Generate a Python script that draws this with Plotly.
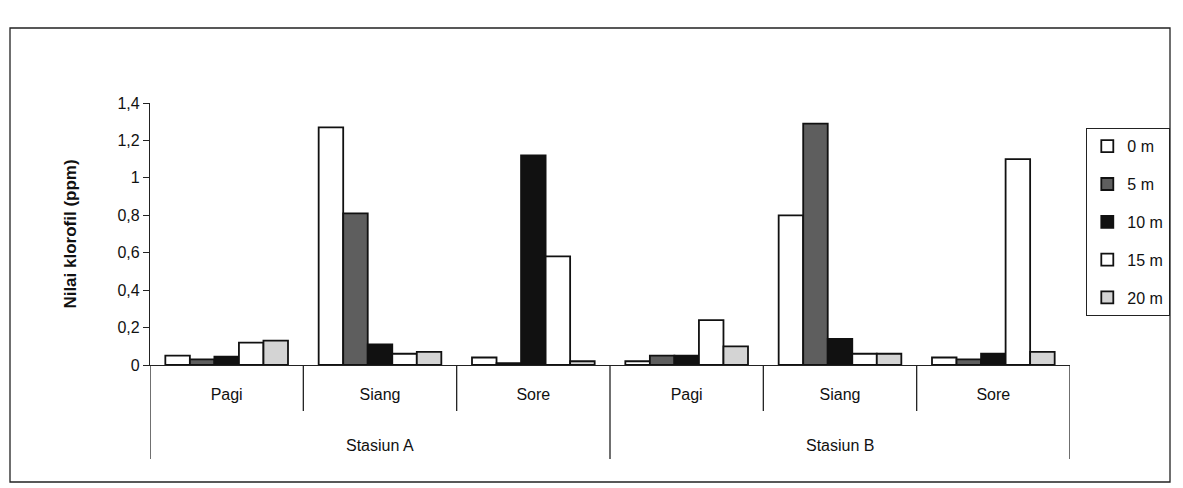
import plotly.graph_objects as go

# Categories: station (outer level) and time of day (inner level)
stasiun = ["Stasiun A", "Stasiun A", "Stasiun A", "Stasiun B", "Stasiun B", "Stasiun B"]
waktu = ["Pagi", "Siang", "Sore", "Pagi", "Siang", "Sore"]

# Chlorophyll values (ppm) per sampling depth
depth_0m = [0.05, 1.27, 0.04, 0.02, 0.80, 0.04]
depth_5m = [0.03, 0.81, 0.01, 0.05, 1.29, 0.03]
depth_10m = [0.045, 0.11, 1.12, 0.05, 0.14, 0.06]
depth_15m = [0.12, 0.06, 0.58, 0.24, 0.06, 1.10]
depth_20m = [0.13, 0.07, 0.02, 0.10, 0.06, 0.07]

series_names = ["0 m", "5 m", "10 m", "15 m", "20 m"]
series_values = [depth_0m, depth_5m, depth_10m, depth_15m, depth_20m]
series_colors = ["#ffffff", "#5e5e5e", "#111111", "#ffffff", "#d4d4d4"]

y_tick_values = [0, 0.2, 0.4, 0.6, 0.8, 1.0, 1.2, 1.4]
y_tick_labels = ["0", "0,2", "0,4", "0,6", "0,8", "1", "1,2", "1,4"]

FONT = "Liberation Sans, Arial, sans-serif"
INK = "#111111"

# one unique category key per (station, time) pair; only the time is shown as tick text
cat_keys = [f"{s} | {w}" for s, w in zip(stasiun, waktu)]

fig = go.Figure()
for name, vals, col in zip(series_names, series_values, series_colors):
    fig.add_trace(go.Bar(
        x=cat_keys,
        y=vals,
        name=name,
        legendgroup=name,
        marker=dict(color=col, line=dict(color="#111111", width=1.8)),
    ))

W, H = 1183, 488
ml, mr, mt, mb = 150, 113, 103, 123
pw, ph = W - ml - mr, H - mt - mb

def px_x(x):
    return (x - ml) / pw

def px_y(y):
    return (H - mb - y) / ph

# separators below the axis: short ones between times, long ones between stations
shapes = []
for i in range(len(cat_keys) + 1):
    outer = i == 0 or i == len(cat_keys) or stasiun[i - 1] != stasiun[i]
    depth_px = 94 if outer else 46
    shapes.append(dict(
        type="line", xref="x", yref="paper",
        x0=i - 0.5, x1=i - 0.5, y0=0, y1=-depth_px / ph,
        line=dict(color="#222222", width=1.3),
    ))

# outer frame around the whole chart
shapes.append(dict(
    type="rect", xref="paper", yref="paper",
    x0=px_x(10), x1=px_x(1170), y0=px_y(482), y1=px_y(28),
    line=dict(color="#222222", width=1.3), fillcolor="rgba(0,0,0,0)",
    layer="below",
))

# station labels centred under their three time-of-day groups
annotations = []
for st in dict.fromkeys(stasiun):
    idx = [i for i, s in enumerate(stasiun) if s == st]
    annotations.append(dict(
        text=st, xref="x", yref="paper",
        x=sum(idx) / len(idx), y=-80 / ph,
        xanchor="center", yanchor="middle", showarrow=False,
        font=dict(family=FONT, size=16, color=INK),
    ))

fig.update_layout(
    width=W, height=H,
    margin=dict(l=ml, r=mr, t=mt, b=mb),
    paper_bgcolor="white",
    plot_bgcolor="white",
    barmode="group",
    bargap=0.2,
    bargroupgap=0,
    font=dict(family=FONT, size=16, color=INK),
    showlegend=True,
    legend=dict(
        x=px_x(1086), y=px_y(128), xanchor="left", yanchor="top",
        bordercolor="#222222", borderwidth=1.3,
        font=dict(size=16),
        traceorder="grouped",
        tracegroupgap=14,
        bgcolor="white",
    ),
    xaxis=dict(
        type="category",
        tickvals=cat_keys,
        ticktext=waktu,
        showline=True, linecolor="#222222", linewidth=1.3,
        ticks="",
        ticklabelstandoff=15,
        tickfont=dict(size=16),
        showgrid=False,
        range=[-0.5, len(cat_keys) - 0.5],
    ),
    yaxis=dict(
        range=[0, 1.4],
        tickvals=y_tick_values,
        ticktext=y_tick_labels,
        showline=True, linecolor="#222222", linewidth=1.3,
        ticks="outside", ticklen=6, tickcolor="#222222",
        tickfont=dict(size=16),
        showgrid=False, zeroline=False,
        title=dict(text="<b>Nilai klorofil (ppm)</b>", font=dict(size=17), standoff=36),
    ),
    shapes=shapes,
    annotations=annotations,
)

fig.write_html("out.html")
